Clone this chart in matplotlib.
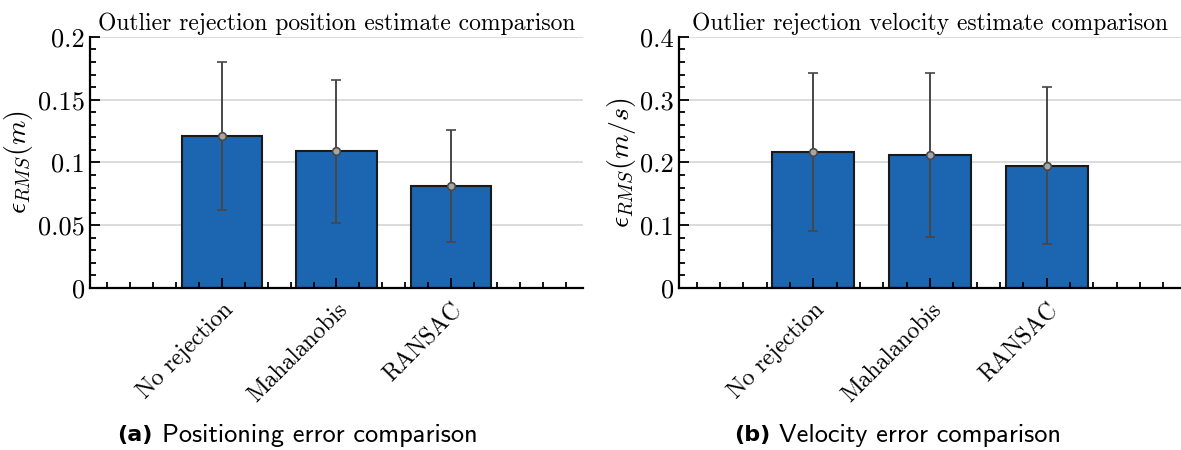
import numpy as np
import matplotlib
matplotlib.use('Agg')
import matplotlib.pyplot as plt
from matplotlib.ticker import MultipleLocator, FixedLocator

plt.rcParams['font.family'] = 'cmr10'
plt.rcParams['mathtext.fontset'] = 'cm'
plt.rcParams['axes.formatter.use_mathtext'] = True

methods = ['No rejection', 'Mahalanobis', 'RANSAC']
pos_rms = [0.121, 0.109, 0.081]
pos_std = [0.059, 0.057, 0.0445]
vel_rms = [0.217, 0.212, 0.195]
vel_std = [0.126, 0.130, 0.125]

bar_color = '#1c65b0'
err_color = '#474747'


def panel(ax, vals, errs, ymax, ystep, yminor, title, ylabel):
    x = np.arange(1, len(vals) + 1)
    for yt in np.arange(0, ymax + ystep / 2, ystep)[1:]:
        ax.axhline(yt, color='#d9d9d9', lw=1.3, zorder=0)
    ax.bar(x, vals, width=0.7, color=bar_color, edgecolor='#1a1a1a', lw=1.5, zorder=1)
    ax.errorbar(x, vals, yerr=errs, fmt='o', color=err_color, ecolor=err_color,
                elinewidth=1.4, capsize=3.5, capthick=1.4, markersize=5.5,
                markerfacecolor='#a6a6a6', markeredgecolor=err_color, markeredgewidth=1.2, zorder=3)
    ax.set_xlim(-0.15, 4.15)
    ax.set_ylim(0, ymax)
    ax.xaxis.set_major_locator(FixedLocator(x))
    ax.xaxis.set_minor_locator(MultipleLocator(0.2))
    ax.set_xticklabels(methods, rotation=45, ha='right', va='top', rotation_mode='anchor', fontsize=17)
    ax.yaxis.set_major_locator(MultipleLocator(ystep))
    ax.yaxis.set_minor_locator(MultipleLocator(yminor))
    ax.yaxis.set_major_formatter(plt.FuncFormatter(lambda v, p: '%g' % round(v, 4)))
    ax.tick_params(axis='both', which='both', direction='in', width=1.3)
    ax.tick_params(axis='y', labelsize=19)
    ax.tick_params(axis='both', which='major', length=7)
    ax.tick_params(axis='both', which='minor', length=4)
    ax.tick_params(axis='x', which='major', pad=8)
    for s in ['top', 'right']:
        ax.spines[s].set_visible(False)
    for s in ['left', 'bottom']:
        ax.spines[s].set_linewidth(1.6)
    ax.set_title(title, fontsize=17, pad=5)
    ax.set_ylabel(ylabel, fontsize=20, labelpad=2)


fig = plt.figure(figsize=(11.81, 4.5), dpi=100)
ax1 = fig.add_axes([0.0762, 0.36, 0.4174, 0.558])
ax2 = fig.add_axes([0.575, 0.36, 0.425, 0.558])

panel(ax1, pos_rms, pos_std, 0.2, 0.05, 0.01,
      'Outlier rejection position estimate comparison', r'$\epsilon_{RMS}(m)$')
panel(ax2, vel_rms, vel_std, 0.4, 0.1, 0.02,
      'Outlier rejection velocity estimate comparison', r'$\epsilon_{RMS}(m/s)$')

bold_font = ['DejaVu Sans']
cap_font = ['cmss10', 'DejaVu Sans']
fig.text(0.099, 0.033, '(a)', fontsize=16, fontweight='bold', family=bold_font, ha='left', va='center')
fig.text(0.137, 0.033, 'Positioning error comparison', fontsize=19, family=cap_font, ha='left', va='center')
fig.text(0.622, 0.033, '(b)', fontsize=16, fontweight='bold', family=bold_font, ha='left', va='center')
fig.text(0.660, 0.033, 'Velocity error comparison', fontsize=19, family=cap_font, ha='left', va='center')

fig.savefig('out.png', dpi=100)
